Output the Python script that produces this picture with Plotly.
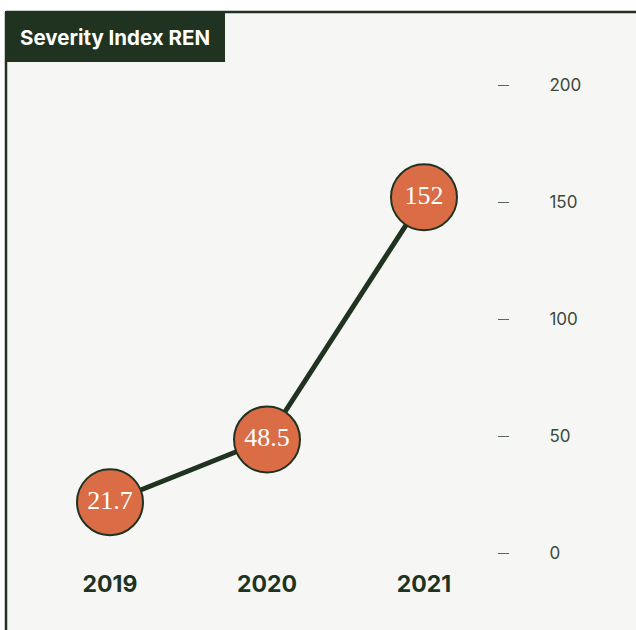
import plotly.graph_objects as go

# Severity index by year
years = ["2019", "2020", "2021"]
severity = [21.7, 48.5, 152]
tick_values = [0, 50, 100, 150, 200]
tick_labels = ["0", "50", "100", "150", "200"]

W, H = 636, 630
DARK = "#1f3320"
ORANGE = "#da6d45"
BG = "#f6f6f4"


def px_x(p):
    return p / W


def px_y(p):
    return 1 - p / H


fig = go.Figure()

fig.add_trace(go.Scatter(
    x=years,
    y=severity,
    mode="lines+markers+text",
    line=dict(color=DARK, width=5),
    marker=dict(size=66, color=ORANGE, line=dict(color=DARK, width=2)),
    text=[f"{v:g}" for v in severity],
    textposition="middle center",
    textfont=dict(family="Liberation Serif, DejaVu Serif, serif", size=26, color="white"),
    hoverinfo="skip",
    cliponaxis=False,
))

fig.update_layout(
    width=W,
    height=H,
    margin=dict(l=0, r=0, t=0, b=0),
    paper_bgcolor="white",
    plot_bgcolor="rgba(0,0,0,0)",
    showlegend=False,
    xaxis=dict(
        type="category",
        range=[-110 / 157, (W - 110) / 157],
        domain=[0, 1],
        anchor="free",
        position=px_y(568),
        showgrid=False,
        zeroline=False,
        showline=False,
        ticks="",
        tickfont=dict(family="Inter, Lato, sans-serif", size=23, color=DARK, weight="bold"),
        fixedrange=True,
    ),
    yaxis=dict(
        range=[(553 - H) / 2.34, 553 / 2.34],
        domain=[0, 1],
        side="right",
        anchor="free",
        position=px_x(497),
        tickmode="array",
        tickvals=tick_values,
        ticktext=tick_labels,
        ticks="outside",
        ticklen=11,
        tickwidth=1.2,
        tickcolor="#5a665a",
        ticklabelstandoff=37,
        tickfont=dict(family="Inter, Lato, sans-serif", size=17, color="#3b4a3b"),
        showgrid=False,
        zeroline=False,
        showline=False,
        fixedrange=True,
    ),
    shapes=[
        # chart panel background
        dict(type="rect", xref="paper", yref="paper", layer="below",
             x0=px_x(6), x1=1, y0=0, y1=px_y(12),
             fillcolor=BG, line=dict(width=0)),
        # top border
        dict(type="line", xref="paper", yref="paper",
             x0=px_x(6), x1=1, y0=px_y(12), y1=px_y(12),
             line=dict(color=DARK, width=2.5)),
        # left border
        dict(type="line", xref="paper", yref="paper",
             x0=px_x(6), x1=px_x(6), y0=0, y1=px_y(12),
             line=dict(color=DARK, width=2.5)),
        # title box
        dict(type="rect", xref="paper", yref="paper",
             x0=px_x(5), x1=px_x(225), y0=px_y(62), y1=px_y(11),
             fillcolor=DARK, line=dict(width=0)),
    ],
    annotations=[
        dict(text="<b>Severity Index REN</b>", xref="paper", yref="paper",
             x=px_x(115), y=px_y(37), xanchor="center", yanchor="middle",
             showarrow=False,
             font=dict(family="Inter, Lato, sans-serif", size=20.5, color="white")),
    ],
)

fig.write_html("out.html")
